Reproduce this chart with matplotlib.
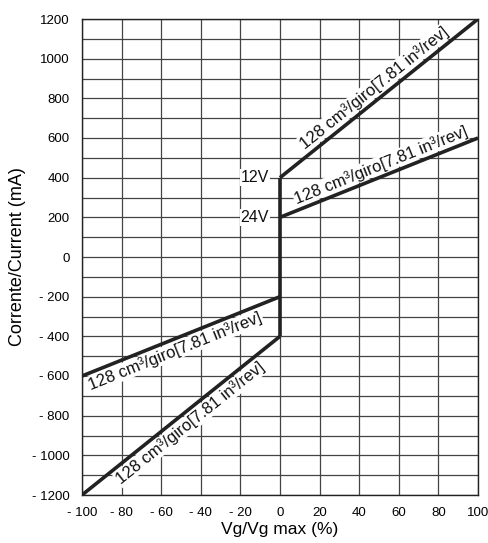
import numpy as np
import matplotlib
matplotlib.use("Agg")
import matplotlib.pyplot as plt
import matplotlib.transforms as mtransforms

plt.rcParams['font.family'] = ['Liberation Sans', 'DejaVu Sans']

# Control characteristics: displacement ratio (%) vs. control current (mA)
x_ticks = [-100, -80, -60, -40, -20, 0, 20, 40, 60, 80, 100]
y_ticks = [-1200, -1000, -800, -600, -400, -200, 0, 200, 400, 600, 800, 1000, 1200]

vg_12v_pos = [0, 100]
ma_12v_pos = [400, 1200]
vg_12v_neg = [0, -100]
ma_12v_neg = [-400, -1200]

vg_24v_pos = [0, 100]
ma_24v_pos = [200, 600]
vg_24v_neg = [0, -100]
ma_24v_neg = [-200, -600]

vg_dead = [0, 0]
ma_dead = [-400, 400]

curve_label = "128 cm\u00b3/giro[7.81 in\u00b3/rev]"
voltage_labels = ["12V", "24V"]
voltage_levels = [400, 200]


def fmt(v):
    return f"- {abs(v)}" if v < 0 else f"{v}"


fig = plt.figure(figsize=(4.89, 5.43), dpi=100)
ax = fig.add_axes([82 / 489, 1 - 495 / 543, 396 / 489, 476 / 543])

ax.set_xlim(-100, 100)
ax.set_ylim(-1200, 1200)
ax.set_xticks(x_ticks)
ax.set_xticklabels([fmt(v) for v in x_ticks])
ax.set_yticks(y_ticks)
ax.set_yticklabels([fmt(v) for v in y_ticks])
ax.set_yticks(np.arange(-1100, 1200, 200), minor=True)
ax.tick_params(which='both', length=0, labelsize=9.5)
ax.tick_params(axis='x', pad=9)
ax.tick_params(axis='y', pad=9)
ax.grid(True, which='major', color='#444444', lw=0.9)
ax.grid(True, which='minor', axis='y', color='#444444', lw=0.9)
ax.set_axisbelow(True)
for s in ax.spines.values():
    s.set_color('#222222')
    s.set_linewidth(1.0)

lc = '#222222'
lw = 2.6
for xs, ys in [(vg_12v_pos, ma_12v_pos), (vg_12v_neg, ma_12v_neg),
               (vg_24v_pos, ma_24v_pos), (vg_24v_neg, ma_24v_neg),
               (vg_dead, ma_dead)]:
    ax.plot(xs, ys, color=lc, lw=lw, solid_capstyle='butt', zorder=3)

box = dict(facecolor='white', edgecolor='none', pad=0.6)


def line_label(xs, ys, xc, above, gap=2.5):
    slope = (ys[1] - ys[0]) / (xs[1] - xs[0])
    yc = ys[0] + slope * (xc - xs[0])
    # on-screen angle of the line, used to nudge the text off the stroke
    p0 = ax.transData.transform((xs[0], ys[0]))
    p1 = ax.transData.transform((xs[1], ys[1]))
    theta = np.arctan2(p1[1] - p0[1], p1[0] - p0[0])
    if np.cos(theta) < 0:
        theta += np.pi
    sign = 1 if above else -1
    dx = -np.sin(theta) * gap * sign
    dy = np.cos(theta) * gap * sign
    tr = mtransforms.offset_copy(ax.transData, fig=fig, x=dx, y=dy, units='points')
    ax.text(xc, yc, curve_label, rotation=np.degrees(theta),
            rotation_mode='anchor', ha='center',
            va='bottom' if above else 'top', fontsize=12, color='#111111',
            bbox=box, zorder=2, transform=tr)


line_label(vg_12v_pos, ma_12v_pos, 51, True)
line_label(vg_24v_pos, ma_24v_pos, 53, True)
line_label(vg_24v_neg, ma_24v_neg, -55, False)
line_label(vg_12v_neg, ma_12v_neg, -49, False)

for lab, lev in zip(voltage_labels, voltage_levels):
    ax.text(-5.5, lev, lab, ha='right', va='center', fontsize=11.5,
            color='#111111', bbox=dict(facecolor='white', edgecolor='none', pad=0.8),
            zorder=2)

ax.set_xlabel("Vg/Vg max (%)", fontsize=12.5, labelpad=2)
ax.set_ylabel("Corrente/Current (mA)", fontsize=13, labelpad=4)

fig.savefig("out.png", dpi=100)
